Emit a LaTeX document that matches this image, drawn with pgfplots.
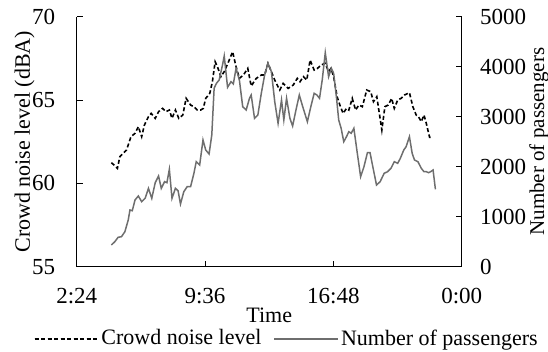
\documentclass[border=0pt]{standalone}
\usepackage{fontspec}
\setmainfont{Liberation Serif}
\usepackage{pgfplots}
\usepackage{pgfplotstable}
\pgfplotsset{compat=1.18}
\definecolor{paxgray}{RGB}{110,110,110}
\pgfplotstableread{
h dB
4.344 61.24
4.498 61.10
4.685 60.90
4.821 61.6
5.008 61.8
5.195 62.0
5.444 62.8
5.671 63.0
5.858 63.4
6.045 62.8
6.198 63.5
6.425 64.0
6.578 64.2
6.805 63.9
6.992 64.3
7.219 64.5
7.406 64.3
7.598 64.4
7.746 63.9
7.939 64.4
8.126 63.9
8.352 64.1
8.539 65.1
8.789 64.7
8.976 64.6
9.163 64.4
9.356 64.4
9.503 64.5
9.639 65.1
9.866 65.4
10.013 66.1
10.167 67.3
10.297 67.0
10.49 66.4
10.677 66.7
10.92 67.3
11.147 67.9
11.34 67.0
11.527 66.3
11.754 66.5
11.998 66.9
12.19 65.84
12.474 66.3
12.757 66.5
12.944 66.5
13.131 67.2
13.324 66.7
13.511 66.2
13.698 65.8
13.795 65.6
13.982 66.0
14.265 65.7
14.549 65.9
14.775 66.3
14.928 66.1
15.116 66.4
15.308 66.2
15.495 67.4
15.722 66.8
15.909 66.9
16.102 67.1
16.346 67.2
16.533 66.7
16.669 66.9
16.816 66.4
17.009 65.2
17.196 64.6
17.349 64.2
17.536 64.5
17.667 64.4
17.859 65.1
18.046 64.4
18.233 64.7
18.426 64.6
18.67 65.6
18.896 65.5
19.05 64.9
19.237 65.2
19.407 64.0
19.52 63.2
19.69 64.6
19.877 64.7
20.07 65.1
20.218 64.5
20.41 65.0
20.597 65.1
20.784 65.3
21.068 65.44
21.26 64.6
21.447 64.1
21.578 64.0
21.731 63.7
21.884 64.1
22.014 63.6
22.145 63.0
22.202 62.76
22.338 62.76
}\noisetable
\pgfplotstableread{
h P
4.344 434
4.537 500
4.724 588
4.911 600
5.104 700
5.291 934
5.388 1134
5.518 1120
5.671 1334
5.858 1414
6.045 1300
6.238 1368
6.425 1568
6.612 1368
6.805 1680
6.992 1814
7.145 1568
7.332 1700
7.462 1680
7.598 1948
7.746 1368
7.939 1568
8.086 1520
8.222 1254
8.409 1500
8.596 1600
8.789 1600
8.976 1868
9.106 2100
9.299 2034
9.486 2534
9.639 2334
9.826 2254
9.979 2634
10.11 3568
10.24 3668
10.393 3734
10.58 4034
10.677 4214
10.864 3588
11.057 3700
11.187 3654
11.34 3968
11.527 3734
11.714 3200
11.907 3134
12.094 3368
12.19 3434
12.377 2968
12.564 3034
12.757 3468
12.944 3834
13.131 4068
13.324 3900
13.511 3300
13.698 2868
13.891 3334
14.021 2934
14.174 3368
14.361 2968
14.514 2814
14.702 3134
14.889 3434
15.081 3200
15.342 2900
15.535 3200
15.722 3468
15.875 3434
16.023 3368
16.175 3734
16.346 4280
16.533 3800
16.686 3968
16.816 3868
16.969 3400
17.1 2934
17.236 2768
17.383 2500
17.536 2600
17.667 2700
17.802 2668
17.95 2768
18.143 2268
18.33 1800
18.517 2000
18.71 2280
18.857 2280
19.05 1934
19.22 1634
19.424 1700
19.65 1868
19.843 1900
20.03 1968
20.218 2100
20.41 2068
20.558 2168
20.75 2334
20.881 2400
21.068 2600
21.221 2268
21.351 2134
21.544 2100
21.731 1968
21.884 1900
22.014 1900
22.145 1880
22.258 1900
22.394 1934
22.525 1548
}\paxtable
\pgfplotsset{
  common/.style={
    scale only axis, width=385pt, height=250pt,
    at={(0,0)}, anchor=south west,
    xmin=2.4, xmax=24,
    tick align=inside, major tick length=6pt,
    tick style={black, line width=1pt},
    axis line style={black, line width=1.2pt, -},
    /pgf/number format/assume math mode=true,
    /pgf/number format/1000 sep={},
    ticklabel style={font=\fontsize{23}{27}\selectfont},
    label style={font=\fontsize{22}{26}\selectfont},
  }
}
\begin{document}
\fontsize{22}{26}\selectfont
\begin{tikzpicture}
\begin{axis}[common, name=ax,
  ymin=55, ymax=70,
  axis x line*=bottom, axis y line*=left,
  xtick={2.4,9.6,16.8,24}, xticklabels={2:24,9:36,16:48,0:00},
  ytick={55,60,65,70},
  xticklabel style={yshift=-14pt},
  yticklabel style={xshift=-14pt},
  xlabel={Time},
  every axis x label/.style={at={(rel axis cs:0.5,-0.2212)}, anchor=base},
  ylabel={Crowd noise level (dBA)},
  every axis y label/.style={at={(rel axis cs:-0.1213,0.5)}, rotate=90, anchor=base},
]
\addplot[black, line width=1.6pt, dash pattern=on 4pt off 2.5pt] table[x=h, y=dB] {\noisetable};
\end{axis}
\begin{axis}[common,
  ymin=0, ymax=5000,
  axis x line=none, axis y line*=right,
  ytick={0,1000,2000,3000,4000,5000},
  yticklabel style={xshift=11pt},
  ylabel={Number of passengers},
  every axis y label/.style={at={(rel axis cs:1.2138,0.5)}, rotate=90, anchor=base, font=\fontsize{21}{25}\selectfont},
  legend columns=2,
  legend cell align=left,
  legend image code/.code={\path (0pt,0pt) -- (64pt,0pt); \draw[#1] (0pt,0pt) -- (60pt,0pt);},
  legend style={at={(rel axis cs:0.5457,-0.289)}, anchor=center, draw=none, fill=none,
    font=\fontsize{22}{26}\selectfont,
    /tikz/every even column/.append style={column sep=10pt}},
]
\addlegendimage{black, line width=1.6pt, dash pattern=on 4pt off 2.5pt}
\addlegendentry{Crowd noise level}
\addplot[paxgray, line width=1.5pt] table[x=h, y=P] {\paxtable};
\addlegendentry{Number of passengers}
\end{axis}
\pgfresetboundingbox
\path (ax.south west) ++(-76.7pt,-84.3pt) rectangle ++(548pt,351pt);
\end{tikzpicture}
\end{document}
